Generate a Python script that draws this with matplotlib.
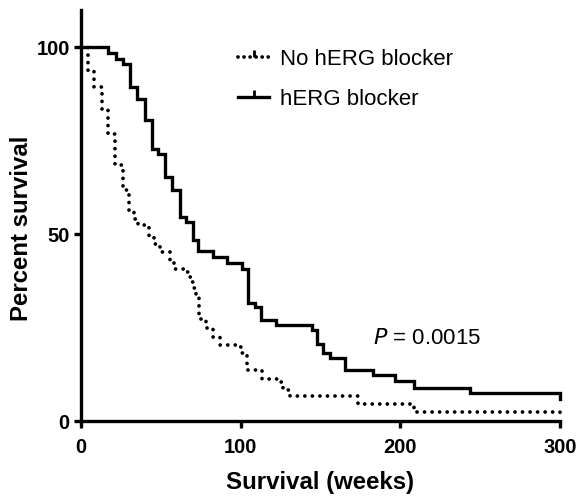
import matplotlib
matplotlib.use("Agg")
import matplotlib.pyplot as plt
from matplotlib.lines import Line2D
from matplotlib.markers import TICKUP

plt.rcParams['font.family'] = ['Liberation Sans', 'DejaVu Sans']

# Kaplan-Meier steps (weeks, percent survival)
no_blocker_weeks = [0, 4.2, 8.4, 12.9, 17.1, 21.3, 26.5, 30, 33.5, 36, 42.5, 46, 49.5,
                    56, 58, 65, 67, 69.5, 70.5, 72, 74, 78, 82.5, 87, 98, 100.6, 104.2,
                    113.1, 125.5, 126.7, 130.9, 173.6, 208.3, 300]
no_blocker_surv = [100, 93.7, 89.4, 83.2, 76.7, 68.4, 61.9, 56, 54, 52.4, 49.3, 47.5, 45.3,
                   42.2, 40.8, 39.9, 38.6, 37.2, 35.5, 33.2, 27.2, 25, 22.5, 20.3, 19.9, 18.1, 13.6,
                   11.2, 10.5, 8.3, 6.7, 4.5, 2.5, 1.1]

blocker_weeks = [0, 17, 22, 26.5, 30.7, 34.9, 40, 44.2, 48.4, 52.6, 56.8, 62, 66, 70, 73,
                 82.8, 91.2, 100.6, 104.4, 109, 113, 122, 144.5, 147.6, 151.7, 155.9, 165.3,
                 183, 196.6, 208.5, 243.6, 300]
blocker_surv = [100, 98.5, 97, 95.6, 89.4, 86.3, 80.5, 72.7, 71.4, 65.3, 61.9, 54.6, 53.3, 48.4, 45.5,
                43.9, 42.4, 40.8, 31.7, 30.4, 27, 25.7, 24.3, 20.7, 18.1, 16.8, 13.6,
                12.3, 10.7, 8.9, 7.6, 6.0]

labels = ['No hERG blocker', 'hERG blocker']
p_text = '$P$ = 0.0015'

fig = plt.figure(figsize=(5.78, 4.96), dpi=100)
ax = fig.add_axes([0.140, 0.151, 0.829, 0.829])

lw = 2.4
dot_lw = 2.7
dots = (0, (0.01, 2.0))
ax.step(no_blocker_weeks, no_blocker_surv, where='post', color='black', lw=dot_lw,
        linestyle=dots, dash_capstyle='round', clip_on=False)
ax.step(blocker_weeks, blocker_surv, where='post', color='black', lw=lw,
        solid_joinstyle='miter', clip_on=False)

ax.set_xlim(0, 300)
ax.set_ylim(0, 110)
ax.set_xticks([0, 100, 200, 300])
ax.set_yticks([0, 50, 100])

for side in ['top', 'right']:
    ax.spines[side].set_visible(False)
for side in ['left', 'bottom']:
    ax.spines[side].set_linewidth(2.4)
ax.tick_params(axis='both', direction='out', length=5, width=2.4, labelsize=14.5)
ax.tick_params(axis='x', pad=7.5)
ax.tick_params(axis='y', pad=3)
for lab in ax.get_xticklabels() + ax.get_yticklabels():
    lab.set_fontweight('bold')

ax.set_xlabel('Survival (weeks)', fontsize=17.3, fontweight='bold', labelpad=10)
ax.set_ylabel('Percent survival', fontsize=17.3, fontweight='bold')
ax.yaxis.set_label_coords(-0.100, 0.47)

handles = [
    Line2D([0], [0], color='black', lw=dot_lw, linestyle=(0, (0.01, 1.6)), dash_capstyle='round',
           marker=TICKUP, markersize=5, markeredgewidth=2),
    Line2D([0], [0], color='black', lw=lw, marker=TICKUP, markersize=5, markeredgewidth=2),
]
ax.legend(handles, labels, loc='upper left', bbox_to_anchor=(0.328, 0.905), frameon=False,
          fontsize=16, handlelength=1.4, handletextpad=0.5, labelspacing=0.85,
          borderpad=0, borderaxespad=0, numpoints=1)

ax.text(183, 22.2, p_text, fontsize=16, ha='left', va='center')

fig.savefig('out.png', dpi=100)
